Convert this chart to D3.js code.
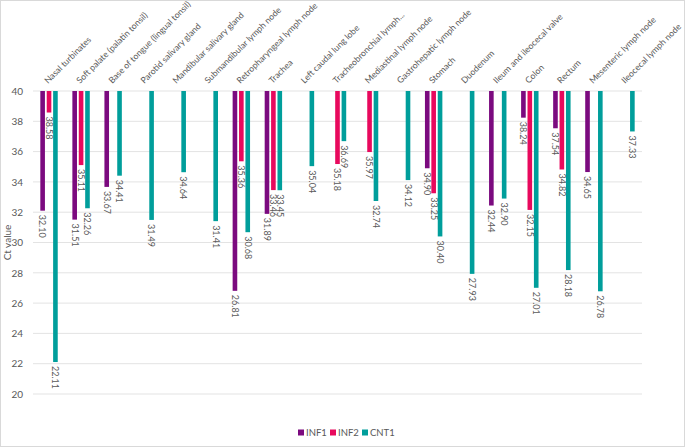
<!DOCTYPE html>
<html>
<head>
<meta charset="utf-8">
<script src="https://cdn.jsdelivr.net/npm/d3@7"></script>
<style>
  body { margin: 0; background: #fff; }
  text { font-family: Lato, "Open Sans", sans-serif; fill: #595959; }
</style>
</head>
<body>
<svg id="chart" width="685" height="448"></svg>
<script>
var categories = ["Nasal turbinates", "Soft palate (palatin tonsil)", "Base of tongue (lingual tonsil)",
	"Parotid salivary gland", "Mandibular salivary gland", "Submandibular lymph node",
	"Retropharyngeal lymph node", "Trachea", "Left caudal lung lobe", "Tracheobronchial lymph...",
	"Mediastinal lymph node", "Gastrohepatic lymph node", "Stomach", "Duodenum",
	"Ileum and ileocecal valve", "Colon", "Rectum", "Mesenteric lymph node", "Ileocecal lymph node"];
var inf1 = [32.10, 31.51, 33.67, null, null, null, 26.81, 31.89, null, null, null, null, 34.90, null, 32.44, 38.24, 37.54, 34.65, null];
var inf2 = [38.58, 35.11, null, null, null, null, 35.36, 33.46, null, 35.18, 35.97, null, 33.25, null, null, 32.15, 34.82, null, null];
var cnt1 = [22.11, 32.26, 34.41, 31.49, 34.64, 31.41, 30.68, 33.45, 35.04, 36.69, 32.74, 34.12, 30.40, 27.93, 32.90, 27.01, 28.18, 26.78, 37.33];
var seriesNames = ["INF1", "INF2", "CNT1"];
var seriesColors = ["#7b0a7f", "#e8095d", "#009e9b"];
var yTicks = [20, 22, 24, 26, 28, 30, 32, 34, 36, 38, 40];

var svg = d3.select("#chart");
var margin = {left: 33, right: 43, top: 91, bottom: 54};
var W = 685, H = 448;

svg.append("rect")
	.attr("x", 0.5).attr("y", 0.5)
	.attr("width", W - 1).attr("height", H - 2)
	.attr("fill", "#fff").attr("stroke", "#d9d9d9");

var x = d3.scaleBand()
	.domain(categories)
	.range([margin.left, W - margin.right])
	.paddingInner(0).paddingOuter(0);
var xs = d3.scaleBand()
	.domain(seriesNames)
	.range([-10.5, 10.5])
	.padding(0.28);
var y = d3.scaleLinear()
	.domain([40, 20])
	.range([margin.top, H - margin.bottom]);

// gridlines
svg.append("g").selectAll("line")
	.data(yTicks).enter().append("line")
	.attr("x1", margin.left).attr("x2", W - margin.right)
	.attr("y1", function(d) { return y(d); })
	.attr("y2", function(d) { return y(d); })
	.attr("stroke", "#e3e3e3").attr("stroke-width", 1);

// y axis labels
var yAxis = d3.axisLeft(y).tickValues(yTicks).tickSize(0).tickPadding(10);
var gy = svg.append("g").attr("transform", "translate(" + margin.left + ",0)").call(yAxis);
gy.select(".domain").remove();
gy.selectAll("text").attr("font-size", 10).style("fill", "#595959")
	.style("font-family", "Lato, sans-serif");

svg.append("text")
	.attr("transform", "translate(11," + ((y(40) + y(20)) / 2) + ") rotate(-90)")
	.attr("text-anchor", "middle")
	.attr("font-size", 10)
	.text("Ct value");

// category labels
svg.append("g").selectAll("text")
	.data(categories).enter().append("text")
	.attr("transform", function(d) {
		return "translate(" + (x(d) + x.bandwidth() / 2 - 1) + "," + (margin.top - 7) + ") rotate(-45)";
	})
	.attr("font-size", 8.7)
	.text(function(d) { return d; });

// bars
var allSeries = [inf1, inf2, cnt1];
allSeries.forEach(function(vals, si) {
	var name = seriesNames[si];
	var pts = [];
	vals.forEach(function(v, i) { if (v !== null) pts.push({cat: categories[i], v: v}); });
	var g = svg.append("g");
	g.selectAll("rect").data(pts).enter().append("rect")
		.attr("x", function(d) { return x(d.cat) + x.bandwidth() / 2 + xs(name); })
		.attr("width", xs.bandwidth())
		.attr("y", y(40))
		.attr("height", function(d) { return y(d.v) - y(40); })
		.attr("fill", seriesColors[si]);
	g.selectAll("text").data(pts).enter().append("text")
		.attr("transform", function(d) {
			var cx = x(d.cat) + x.bandwidth() / 2 + xs(name) + xs.bandwidth() / 2;
			return "translate(" + cx + "," + (y(d.v) + 4) + ") rotate(90)";
		})
		.attr("dy", "0.35em")
		.attr("font-size", 9)
		.text(function(d) { return d.v.toFixed(2); });
});

// legend
var legend = svg.append("g").attr("transform", "translate(298,433)");
var lx = 0;
seriesNames.forEach(function(n, i) {
	legend.append("rect").attr("x", lx).attr("y", -3.5).attr("width", 6).attr("height", 6)
		.attr("fill", seriesColors[i]);
	legend.append("text").attr("x", lx + 8).attr("y", 0).attr("dy", "0.35em")
		.attr("font-size", 9.5).text(n);
	lx += 32;
});
</script>
</body>
</html>
